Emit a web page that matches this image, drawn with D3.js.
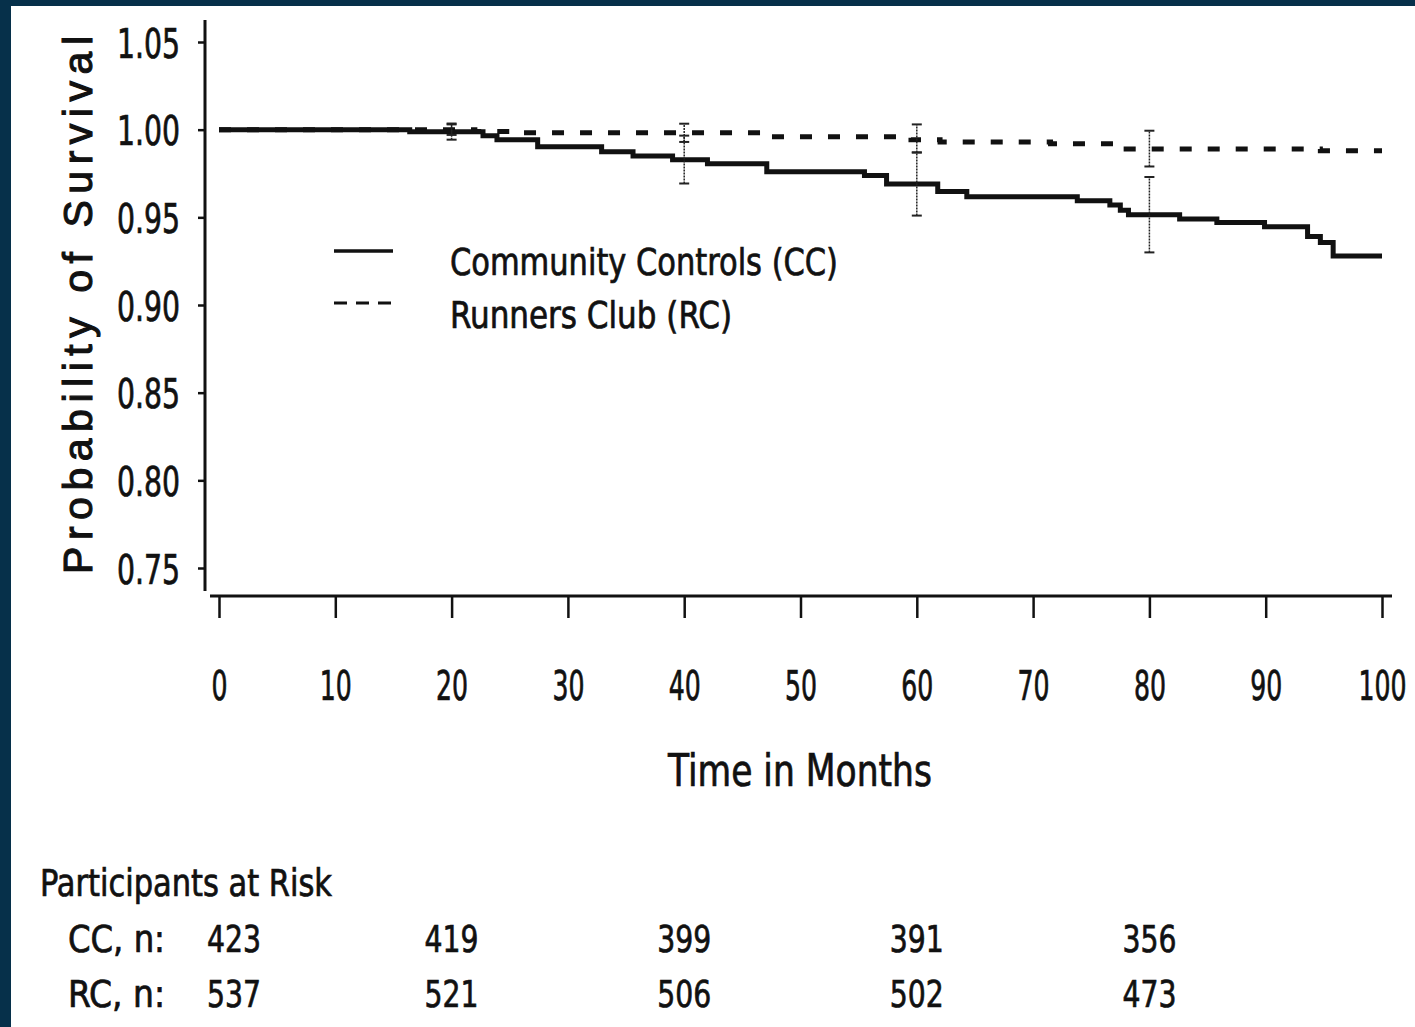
<!DOCTYPE html>
<html>
<head>
  <meta charset="utf-8">
  <script src="https://d3js.org/d3.v7.min.js"></script>
  <style type="text/css">
    body { margin: 0; background: #06304a; }
    svg { display: block; }
    text {
      font-family: "Liberation Sans Narrow", "DejaVu Sans Condensed", "Arial Narrow", sans-serif;
      fill: #111;
      stroke: #111;
      stroke-width: 0.7px;
    }
    .ylabel { font-family: "Liberation Sans", Arial, sans-serif; stroke-width: 1.1px; }
  </style>
</head>
<body>
<svg id="chart" width="1415" height="1027"></svg>
<script>
  // Kaplan-Meier steps: [month, survival]
  const ccSteps = [[0, 1.000], [16.4, 0.9988], [22.7, 0.9966], [23.9, 0.9943], [27.4, 0.9903],
    [32.9, 0.9874], [35.6, 0.985], [39.0, 0.9829], [42.0, 0.9806], [47.1, 0.976],
    [55.5, 0.9738], [57.4, 0.969], [61.8, 0.9647], [64.3, 0.9618], [73.8, 0.9595],
    [76.6, 0.957], [77.5, 0.954], [78.2, 0.9515], [82.6, 0.949], [85.8, 0.947],
    [89.9, 0.9447], [93.6, 0.939], [94.7, 0.9356], [95.8, 0.928]];
  const rcSteps = [[0, 1.000], [22, 0.999], [26, 0.9983], [47, 0.996], [59.5, 0.9943],
    [62, 0.993], [71.5, 0.992], [78, 0.989], [94.7, 0.988]];
  const followUpEnd = 100;

  // confidence intervals
  const ciMonths = [20, 40, 60, 80];
  const ccLower = [0.9943, 0.9693, 0.951, 0.930];
  const ccUpper = [1.0035, 0.9966, 0.987, 0.973];
  const rcLower = [0.997, 0.993, 0.987, 0.979];
  const rcUpper = [1.003, 1.0034, 1.003, 0.9994];

  const yTicks = [0.75, 0.80, 0.85, 0.90, 0.95, 1.00, 1.05];
  const xTicks = [0, 10, 20, 30, 40, 50, 60, 70, 80, 90, 100];

  const riskMonths = [0, 20, 40, 60, 80];
  const ccAtRisk = [423, 419, 399, 391, 356];
  const rcAtRisk = [537, 521, 506, 502, 473];

  const svg = d3.select('#chart');

  // scanned page: dark frame on the left and top
  svg.append('rect').attr('width', 1415).attr('height', 1027).attr('fill', '#06304a');
  svg.append('rect').attr('x', 11).attr('y', 6).attr('width', 1404).attr('height', 1021).attr('fill', '#fff');

  const x = d3.scaleLinear().domain([0, 100]).range([219, 1382]);
  const y = d3.scaleLinear().domain([0.75, 1.05]).range([568, 42]);

  // narrow glyphs like the scanned figure
  const squeeze = (sel, perChar) => sel.each(function () {
    const t = d3.select(this);
    const s = t.text();
    const w = s.split('').reduce((a, c) => a + (c === '.' ? perChar * 0.5 : perChar), 0);
    t.attr('textLength', w).attr('lengthAdjust', 'spacingAndGlyphs');
  });

  // y axis
  const yAxis = svg.append('g')
    .attr('transform', 'translate(205 0)')
    .call(d3.axisLeft(y).tickValues(yTicks).tickSize(7).tickPadding(18).tickFormat(d3.format('.2f')));
  yAxis.select('.domain').remove();
  yAxis.selectAll('.tick line').attr('stroke', '#111').attr('stroke-width', 2.5);
  yAxis.selectAll('.tick text').attr('font-size', 40).attr('dy', '0.38em').call(squeeze, 18);
  svg.append('line').attr('x1', 205).attr('x2', 205).attr('y1', 20).attr('y2', 591)
    .attr('stroke', '#111').attr('stroke-width', 3);

  // x axis
  const xAxis = svg.append('g')
    .attr('transform', 'translate(0 596)')
    .call(d3.axisBottom(x).tickValues(xTicks).tickSize(22).tickPadding(54));
  xAxis.select('.domain').remove();
  xAxis.selectAll('.tick line').attr('stroke', '#111').attr('stroke-width', 2.5);
  xAxis.selectAll('.tick text').attr('font-size', 40).call(squeeze, 16);
  svg.append('line').attr('x1', 210).attr('x2', 1392).attr('y1', 596).attr('y2', 596)
    .attr('stroke', '#111').attr('stroke-width', 3);

  // axis titles
  svg.append('text').attr('class', 'ylabel')
    .attr('transform', 'translate(92 305) rotate(-90)')
    .attr('text-anchor', 'middle')
    .attr('font-size', 41)
    .attr('textLength', 538).attr('lengthAdjust', 'spacing')
    .text('Probability of Survival');

  svg.append('text')
    .attr('x', 800).attr('y', 786)
    .attr('text-anchor', 'middle')
    .attr('font-size', 44)
    .attr('textLength', 264).attr('lengthAdjust', 'spacingAndGlyphs')
    .text('Time in Months');

  // survival curves
  const step = d3.line().curve(d3.curveStepAfter).x(d => x(d[0])).y(d => y(d[1]));
  const withEnd = s => s.concat([[followUpEnd, s[s.length - 1][1]]]);

  svg.append('path').datum(withEnd(rcSteps))
    .attr('fill', 'none').attr('stroke', '#111').attr('stroke-width', 5)
    .attr('stroke-dasharray', '12,16')
    .attr('d', step);

  svg.append('path').datum(withEnd(ccSteps))
    .attr('fill', 'none').attr('stroke', '#111').attr('stroke-width', 5)
    .attr('d', step);

  // confidence interval bars
  function ciBars(lower, upper) {
    const g = svg.append('g').attr('stroke', '#222').attr('stroke-width', 1.5);
    ciMonths.forEach((m, i) => {
      g.append('line').attr('x1', x(m)).attr('x2', x(m)).attr('y1', y(lower[i])).attr('y2', y(upper[i]))
        .attr('stroke-dasharray', '2,1');
      [lower[i], upper[i]].forEach(v => {
        g.append('line').attr('x1', x(m) - 5).attr('x2', x(m) + 5).attr('y1', y(v)).attr('y2', y(v))
          .attr('stroke-width', 2);
      });
    });
  }
  ciBars(rcLower, rcUpper);
  ciBars(ccLower, ccUpper);

  // legend
  const legend = svg.append('g');
  legend.append('line').attr('x1', 334).attr('x2', 393).attr('y1', 251).attr('y2', 251)
    .attr('stroke', '#111').attr('stroke-width', 3.5);
  legend.append('line').attr('x1', 334).attr('x2', 393).attr('y1', 303).attr('y2', 303)
    .attr('stroke', '#111').attr('stroke-width', 3).attr('stroke-dasharray', '13,9');
  legend.append('text').attr('x', 450).attr('y', 275).attr('font-size', 38)
    .attr('textLength', 388).attr('lengthAdjust', 'spacingAndGlyphs')
    .text('Community Controls (CC)');
  legend.append('text').attr('x', 450).attr('y', 328).attr('font-size', 38)
    .attr('textLength', 282).attr('lengthAdjust', 'spacingAndGlyphs')
    .text('Runners Club (RC)');

  // at-risk table
  const table = svg.append('g');
  table.append('text').attr('x', 40).attr('y', 896).attr('font-size', 37)
    .attr('textLength', 292).attr('lengthAdjust', 'spacingAndGlyphs')
    .text('Participants at Risk');
  table.append('text').attr('x', 68).attr('y', 952).attr('font-size', 37)
    .attr('textLength', 97).attr('lengthAdjust', 'spacingAndGlyphs').text('CC, n:');
  table.append('text').attr('x', 68).attr('y', 1007).attr('font-size', 37)
    .attr('textLength', 97).attr('lengthAdjust', 'spacingAndGlyphs').text('RC, n:');

  [[ccAtRisk, 952], [rcAtRisk, 1007]].forEach(([vals, yy]) => {
    table.selectAll(null).data(vals).join('text')
      .attr('x', (d, i) => x(riskMonths[i]) + (riskMonths[i] === 0 ? 15 : 0))
      .attr('y', yy)
      .attr('text-anchor', 'middle')
      .attr('font-size', 38)
      .call(sel => sel.text(d => d))
      .call(squeeze, 18);
  });
</script>
</body>
</html>
